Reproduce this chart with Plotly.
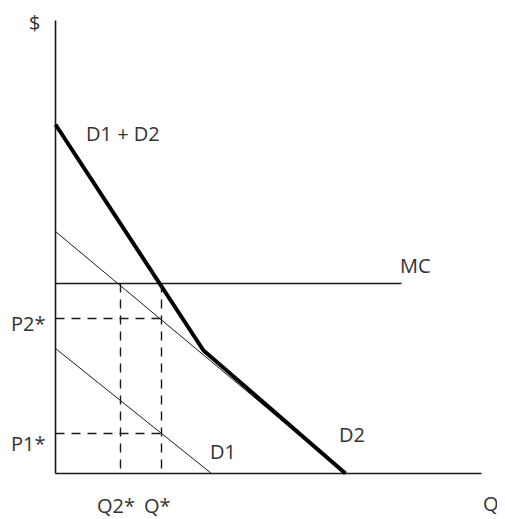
import plotly.graph_objects as go

# demand / cost curves (Q, P), 1 unit = 10 px
q_d1 = [0, 15.6]
p_d1 = [12.5, 0]
q_d2 = [0, 29.0]
p_d2 = [24.2, 0]
q_sum = [0, 14.8, 29.0]
p_sum = [34.9, 12.3, 0]
mc_price = 19.0
mc_qmax = 34.6
p2_star = 15.5
p1_star = 4.0
q2_star = 6.5
q_star = 10.6
q_axis_max = 42.6
p_axis_max = 45.3

ink = '#1a1a1a'
txt = '#333333'

fig = go.Figure()

# axes
fig.add_trace(go.Scatter(x=[0, 0], y=[p_axis_max, 0], mode='lines', line=dict(color=ink, width=1.6)))
fig.add_trace(go.Scatter(x=[0, q_axis_max], y=[0, 0], mode='lines', line=dict(color=ink, width=1.6)))

# curves
fig.add_trace(go.Scatter(x=q_d2, y=p_d2, mode='lines', line=dict(color=ink, width=1)))
fig.add_trace(go.Scatter(x=q_d1, y=p_d1, mode='lines', line=dict(color=ink, width=1)))
fig.add_trace(go.Scatter(x=[0, mc_qmax], y=[mc_price, mc_price], mode='lines', line=dict(color=ink, width=1.4)))
fig.add_trace(go.Scatter(x=q_sum, y=p_sum, mode='lines', line=dict(color='black', width=4)))

# dashed guides
dash = dict(color=ink, width=1.4, dash='9px,7px')
fig.add_trace(go.Scatter(x=[0, q_star], y=[p2_star, p2_star], mode='lines', line=dash))
fig.add_trace(go.Scatter(x=[0, q_star], y=[p1_star, p1_star], mode='lines', line=dash))
fig.add_trace(go.Scatter(x=[q2_star, q2_star], y=[mc_price, 0], mode='lines', line=dash))
fig.add_trace(go.Scatter(x=[q_star, q_star], y=[mc_price, 0], mode='lines', line=dash))

labels = [
    ('$', -2.15, 45.15, 'center'),
    ('D1 + D2', 6.75, 34.05, 'center'),
    ('MC', 35.95, 20.85, 'center'),
    ('P2*', -4.7, 15.05, 'left'),
    ('P1*', -4.7, 3.05, 'left'),
    ('D1', 16.75, 2.25, 'center'),
    ('D2', 29.65, 3.95, 'center'),
    ('Q2*', 6.05, -3.15, 'center'),
    ('Q*', 10.2, -3.15, 'center'),
    ('Q', 43.55, -2.95, 'center'),
]
for t, x, y, anc in labels:
    fig.add_annotation(x=x, y=y, text=t, showarrow=False, xanchor=anc, yanchor='middle',
                       font=dict(family='Open Sans', size=20, color=txt))

# page body has an 8px margin, so the plot area is shifted by 8px
fig.update_layout(
    width=497, height=511,
    margin=dict(l=0, r=0, t=0, b=0),
    paper_bgcolor='white', plot_bgcolor='white',
    showlegend=False,
    xaxis=dict(range=[-4.75, 44.95], visible=False, fixedrange=True),
    yaxis=dict(range=[-4.55, 46.55], visible=False, fixedrange=True),
)

fig.write_html("out.html")
